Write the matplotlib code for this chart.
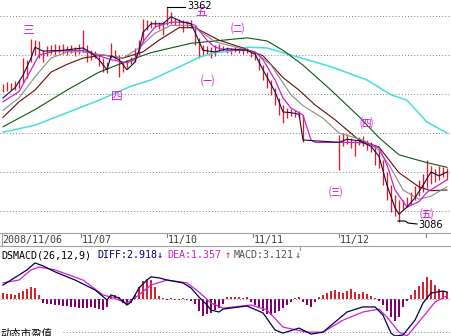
import numpy as np
import matplotlib
matplotlib.use('Agg')
import matplotlib.pyplot as plt
from matplotlib.transforms import blended_transform_factory

# ---------------------------------------------------------
# Price bars (high / low), one per bar, 11/06 .. 11/12
# ---------------------------------------------------------
hi = [3263, 3265, 3264, 3267, 3268, 3296, 3294, 3320, 3319, 3318,
      3306, 3311, 3313, 3314, 3313, 3314, 3311, 3313, 3310, 3314,
      3332, 3313, 3306, 3305, 3300, 3296, 3291, 3315, 3306, 3300,
      3291, 3294, 3297, 3309, 3319, 3346, 3345, 3344, 3345, 3342,
      3342, 3362, 3355, 3347, 3346, 3345, 3344, 3345, 3338, 3322,
      3313, 3311, 3310, 3313, 3314, 3311, 3310, 3309, 3310, 3309,
      3308, 3309, 3306, 3304, 3296, 3287, 3278, 3268, 3258, 3245,
      3236, 3232, 3231, 3229, 3228, 3223,
      3188, 3188, 3188, 3188, 3188, 3188, 3188, 3188,
      3197, 3200, 3199, 3194, 3191, 3195, 3196, 3191, 3188, 3183,
      3178, 3165, 3150, 3133, 3121, 3114, 3114, 3118, 3124, 3132,
      3140, 3148, 3165, 3158, 3154, 3158, 3156, 3155]
lo = [3253, 3254, 3255, 3255, 3258, 3264, 3270, 3291, 3300, 3296,
      3291, 3299, 3301, 3300, 3303, 3301, 3300, 3303, 3299, 3301,
      3304, 3291, 3294, 3296, 3286, 3278, 3277, 3296, 3295, 3272,
      3278, 3283, 3288, 3291, 3300, 3317, 3332, 3335, 3336, 3333,
      3326, 3338, 3340, 3338, 3337, 3330, 3336, 3335, 3313, 3296,
      3300, 3301, 3296, 3299, 3304, 3305, 3303, 3301, 3304, 3303,
      3301, 3303, 3297, 3294, 3281, 3268, 3258, 3249, 3236, 3223,
      3213, 3219, 3222, 3221, 3219, 3188,
      3188, 3188, 3188, 3188, 3188, 3188, 3188, 3188,
      3153, 3183, 3186, 3181, 3170, 3184, 3183, 3178, 3176, 3159,
      3155, 3133, 3114, 3099, 3094, 3086, 3101, 3105, 3108, 3114,
      3119, 3124, 3129, 3135, 3137, 3140, 3144, 3140]

# Moving averages (read at a few bars each)
ma5_i = [0, 3, 5, 7, 8, 10, 15, 20, 22, 24, 26, 27, 29, 31, 33, 34, 35, 37, 40, 42,
         45, 47, 48, 50, 53, 56, 61, 63, 65, 68, 70, 72, 74, 75, 84, 86, 89, 92, 94, 96,
         98, 99, 101, 103, 105, 107, 109, 111]
ma5 = [3245, 3258, 3274, 3296, 3310, 3305, 3306, 3309, 3303, 3294, 3281, 3299, 3294, 3281,
       3291, 3306, 3329, 3340, 3340, 3349, 3342, 3340, 3329, 3306, 3304, 3308, 3306, 3301,
       3281, 3253, 3227, 3226, 3224, 3191, 3188, 3192, 3190, 3183, 3170, 3133, 3104, 3096,
       3105, 3117, 3133, 3150, 3145, 3150]
ma10_i = [0, 4, 7, 9, 13, 20, 24, 27, 31, 33, 35, 38, 42, 46, 48, 51, 53, 56, 61, 63,
          65, 68, 70, 72, 75, 77, 78, 87, 91, 94, 96, 98, 101, 104, 106, 111]
ma10 = [3240, 3253, 3281, 3300, 3305, 3306, 3299, 3294, 3290, 3294, 3317, 3336, 3342, 3342,
        3338, 3319, 3310, 3306, 3306, 3304, 3294, 3268, 3245, 3232, 3223, 3191, 3188, 3188,
        3187, 3181, 3159, 3127, 3105, 3112, 3124, 3140]
ma20_i = [0, 4, 8, 12, 16, 20, 25, 30, 34, 38, 42, 47, 50, 53, 59, 63, 67, 72, 75, 80,
          84, 90, 94, 97, 100, 104, 107, 111]
ma20 = [3229, 3245, 3272, 3296, 3304, 3304, 3300, 3296, 3309, 3328, 3338, 3338, 3328, 3317,
        3309, 3304, 3287, 3249, 3235, 3219, 3200, 3191, 3178, 3155, 3127, 3115, 3119, 3131]
ma30_i = [0, 4, 8, 12, 16, 20, 25, 30, 35, 39, 44, 48, 54, 60, 65, 70, 74, 78, 83, 89,
          94, 99, 104, 107, 111]
ma30 = [3220, 3240, 3255, 3278, 3288, 3296, 3300, 3296, 3304, 3319, 3335, 3335, 3319, 3309,
        3299, 3271, 3255, 3236, 3217, 3191, 3182, 3149, 3131, 3126, 3127]
ma60_i = [0, 8, 16, 24, 32, 37, 47, 55, 61, 66, 70, 75, 82, 89, 94, 99, 106, 111]
ma60 = [3208, 3230, 3255, 3278, 3294, 3303, 3315, 3319, 3322, 3318, 3306, 3287, 3255, 3221,
        3194, 3172, 3162, 3156]
ma120_i = [0, 8, 16, 24, 32, 37, 45, 49, 53, 57, 61, 66, 72, 74, 82, 91, 97, 101, 106, 111]
ma120 = [3201, 3210, 3226, 3242, 3260, 3268, 3287, 3297, 3303, 3305, 3310, 3309, 3300, 3297,
         3285, 3268, 3249, 3242, 3214, 3200]

# ---------------------------------------------------------
# DSMACD(26,12,9)
# ---------------------------------------------------------
macd_hist = [2.5, 2.1, 2.1, 1.7, 2.5, 3.3, 4.2, 5.0, 4.6, 1.7,
             -1.7, -2.1, -2.1, -2.5, -2.5, -2.9, -2.9, -3.3, -3.3, -3.8,
             -3.8, -3.8, -3.3, -3.8, -4.2, -4.6, -3.3, 1.3, 1.7, 0.8,
             -1.7, -2.1, -1.7, 1.7, 5.0, 7.5, 8.3, 7.9, 5.0, 1.3,
             0.4, -0.4, 0.4, -0.4, -0.4, 0.4, -0.4, -0.8, -2.1, -5.0,
             -7.1, -6.3, -5.8, -4.6, -3.8, -2.1, 0.8, 0.8, 0.8, 0.8,
             0.4, 0.8, -1.3, -2.5, -3.8, -5.0, -6.3, -6.7, -5.8, -5.0,
             -3.8, -2.5, -1.3, 0.4, 0.8, -1.3, -2.5, -3.3, -1.3, 0.8,
             1.7, 2.5, 3.3, 3.8, 2.9, 2.5, 3.3, 4.2, 2.9, 2.1,
             2.9, 2.1, 1.3, 0.4, -0.8, -2.5, -5.0, -7.5, -9.2, -7.5,
             -3.3, -0.8, 1.7, 3.8, 5.4, 7.1, 9.2, 7.9, 5.8, 4.2, 3.3, 3.121]
diff_i = [0, 2, 4, 6, 8, 10, 13, 18, 23, 26, 27, 29, 31, 32, 34, 36, 37, 39, 41, 45,
          47, 49, 51, 52, 54, 55, 61, 65, 68, 70, 74, 77, 80, 83, 86, 90, 93, 95, 97, 98,
          100, 103, 105, 107, 110, 111]
diff = [5.8, 7.9, 10.0, 12.1, 15.0, 13.8, 11.3, 7.9, 3.8, -0.4, 1.7, 0.4, -2.5, -1.3, 4.6,
        7.9, 9.2, 8.8, 7.9, 6.7, 4.6, 0.8, -2.5, -4.6, -5.4, -4.2, -2.9, -5.8, -12.9, -14.2,
        -12.1, -14.6, -13.8, -9.6, -5.4, -3.3, -3.3, -6.7, -14.2, -15.4, -15.0, -8.8, -1.7,
        2.5, 3.3, 2.918]
dea_i = [0, 4, 7, 9, 13, 20, 25, 27, 31, 34, 37, 41, 46, 49, 52, 55, 62, 66, 70, 76,
         80, 85, 90, 94, 96, 99, 101, 105, 108, 111]
dea = [6.7, 7.9, 12.1, 13.3, 12.1, 7.9, 1.7, 0.8, -1.7, 1.7, 5.8, 7.9, 6.7, 2.9, -1.7,
       -3.8, -2.5, -4.6, -11.7, -13.8, -13.8, -8.8, -5.4, -4.2, -7.5, -13.8, -15.4, -7.5,
       -1.3, 1.357]

# dates along the time axis
date_labels = ['2008/11/06', '11/07', '11/10', '11/11', '11/12']
date_idx = [-0.25, 19.75, 41.25, 62.75, 84.25]
tick_idx = [19.5, 41, 62.5, 84, 105.75]

# price grid levels
grid_levels = [3350, 3300, 3250, 3200, 3150, 3100]

# wave labels (bar index, price, text)
wave_text = ['三', '四', '五']
wave_i = [6.25, 28.5, 49.5]
wave_p = [3331, 3246, 3354]
sub_text = ['㈠', '㈡', '㈢', '㈣', '㈤']
sub_i = [51, 58.5, 83, 90.75, 105.75]
sub_p = [3264, 3333, 3123, 3211, 3094]

# ---------------------------------------------------------
# Figure
# ---------------------------------------------------------
W, H = 451, 336
fig = plt.figure(figsize=(W / 100, H / 100), dpi=100)
fig.patch.set_facecolor('white')

xlim = (-0.75, 112)
ax = fig.add_axes([0, (H - 228) / H, 1, 228 / H])
axm = fig.add_axes([0, 0, 1, 74 / H])
axd = fig.add_axes([0, (H - 246) / H, 1, 13 / H])
ov = fig.add_axes([0, 0, 1, 1])
for a in (ax, axm, axd, ov):
    a.set_axis_off()
ax.set_xlim(xlim)
ax.set_ylim(3078.2, 3370.5)
axm.set_xlim(xlim)
axm.set_ylim(-15.4, 15.4)
axd.set_xlim(xlim)
axd.set_ylim(0, 1)
ov.set_xlim(0, W)
ov.set_ylim(H, 0)
ov.patch.set_alpha(0)

dots = (0, (1, 2.2))
for lv in grid_levels:
    ax.axhline(lv, color='#808080', lw=0.7, ls=dots)

idx = np.arange(len(hi))
ax.vlines(idx, lo, hi, color='#dc1e2a', lw=0.95)

ax.plot(ma120_i, ma120, color='#40e0dc', lw=1.1)
ax.plot(ma60_i, ma60, color='#0a5a0a', lw=0.8)
ax.plot(ma30_i, ma30, color='#6a0a0a', lw=0.8)
ax.plot(ma20_i, ma20, color='#8a8a8a', lw=0.8)
ax.plot(ma10_i, ma10, color='#d020d0', lw=0.9)
ax.plot(ma5_i, ma5, color='#101040', lw=0.8)

cjk = ['Noto Sans CJK SC', 'DejaVu Sans']
for t, i, p in zip(wave_text, wave_i, wave_p):
    ax.text(i, p, t, color='#d020d0', fontsize=8.5, family=cjk,
            ha='center', va='center')
for t, i, p in zip(sub_text, sub_i, sub_p):
    ax.text(i, p, t, color='#d020d0', fontsize=9.5, family=cjk,
            ha='center', va='center')

# high / low marks
ov.plot([167, 185], [7, 7], color='black', lw=0.8)
ov.text(187, 6, '3362', fontsize=7, color='black', va='center', ha='left')
ov.plot([398, 405, 408, 417], [221, 221, 223, 224], color='black', lw=0.8)
ov.text(418, 225, '3086', fontsize=7, color='black', va='center', ha='left')

# date strip
ov.plot([0, W], [233, 233], color='#a0a0a0', lw=0.8)
ov.plot([0, W], [246, 246], color='#a0a0a0', lw=0.8)
ov.plot([2, 2], [233, 246], color='#a0a0a0', lw=0.8)
ov.plot([300, 300], [246, 250], color='#a0a0a0', lw=0.8)
tr = blended_transform_factory(axd.transData, ov.transData)
for ti in tick_idx:
    axd.plot([ti, ti], [233, 237], color='#808080', lw=0.8, transform=tr)
for lab, di in zip(date_labels, date_idx):
    axd.text(di, 240, lab, transform=tr, fontsize=7.2, family='DejaVu Sans Mono',
             color='#404040', va='center', ha='left')

# MACD title row
mono = 'DejaVu Sans Mono'
ov.text(1, 255, 'DSMACD(26,12,9)', fontsize=7.2, family=mono, color='black', va='center')
ov.text(97, 255, 'DIFF:2.918', fontsize=7.2, family=mono, color='#000070', va='center')
ov.text(157, 255, '↓', fontsize=7.5, family=mono, color='#000070', va='center')
ov.text(167, 255, 'DEA:1.357', fontsize=7.2, family=mono, color='#d020d0', va='center')
ov.text(225, 255, '↑', fontsize=7.5, family=mono, color='#ff0060', va='center')
ov.text(234, 255, 'MACD:3.121', fontsize=7.2, family=mono, color='#505050', va='center')
ov.text(295, 255, '↓', fontsize=7.5, family=mono, color='#505050', va='center')

# MACD panel
axm.axhline(0, color='#808080', lw=0.7, ls=dots)
axm.axhline(-13.75, xmin=0.14, color='#808080', lw=0.7, ls=dots)
hist = np.array(macd_hist)
cols = np.where(hist >= 0, '#d8202c', '#800070')
axm.bar(idx, hist, width=0.45, color=cols, linewidth=0)
axm.plot(dea_i, dea, color='#d020d0', lw=0.9)
axm.plot(diff_i, diff, color='#000050', lw=0.9)

ov.text(0, 334, '动态市盈值', fontsize=7.5, family=cjk, color='black', va='center')

fig.savefig('out.png', dpi=100)
